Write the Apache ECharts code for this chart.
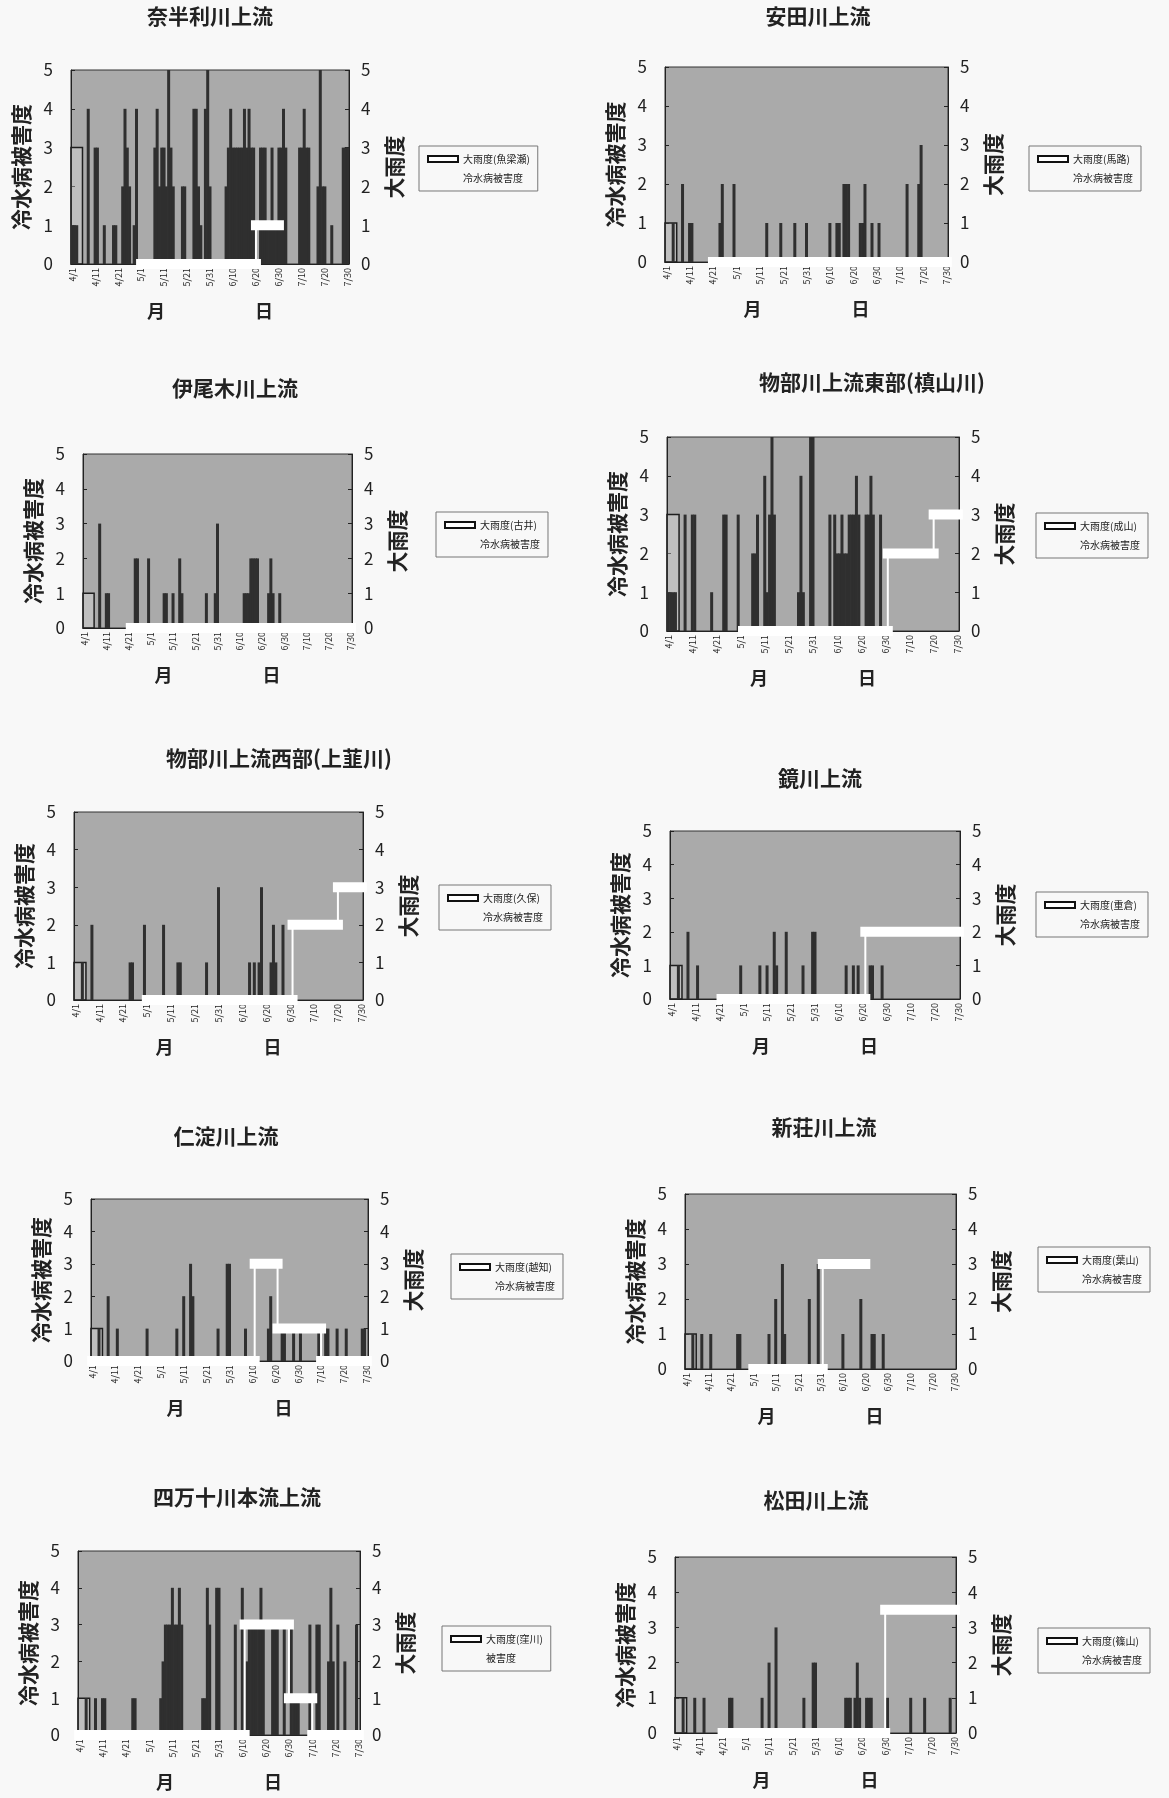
<!DOCTYPE html>
<html lang="ja">
<head>
<meta charset="utf-8">
<title>冷水病被害度と大雨度</title>
<script src="https://cdn.jsdelivr.net/npm/echarts@6/dist/echarts.min.js"></script>
<style>
  html, body { margin: 0; padding: 0; background: #f8f8f8; }
  #chart { width: 1169px; height: 1798px; }
</style>
</head>
<body>
<div id="chart"></div>
<script>
// daily categories 4/1 .. 7/30
const monthLengths = [[4, 30], [5, 31], [6, 30], [7, 30]]
const days = []
monthLengths.forEach(([m, n]) => { for (let d = 1; d <= n; d++) days.push(m + "/" + d) })

const titles = [
  "奈半利川上流", "安田川上流", "伊尾木川上流", "物部川上流東部(槙山川)", "物部川上流西部(上韮川)",
  "鏡川上流", "仁淀川上流", "新荘川上流", "四万十川本流上流", "松田川上流"
]
const stations = ["魚梁瀬", "馬路", "古井", "成山", "久保", "重倉", "越知", "葉山", "窪川", "篠山"]
const damageNames = [
  "冷水病被害度", "冷水病被害度", "冷水病被害度", "冷水病被害度", "冷水病被害度",
  "冷水病被害度", "冷水病被害度", "冷水病被害度", "被害度", "冷水病被害度"
]
// height of the outlined box drawn on 4/1
const boxTops = [3, 1, 1, 3, 1, 1, 1, 1, 1, 1]

// 冷水病被害度 (daily, only non-zero days)
const damage1 = [
  ["4/1", 1], ["4/2", 1], ["4/3", 1], ["4/8", 4], ["4/11", 3], ["4/12", 3], ["4/15", 1], ["4/19", 1], ["4/20", 1],
  ["4/23", 2], ["4/24", 4], ["4/25", 3], ["4/26", 2], ["4/28", 1], ["4/29", 4],
  ["5/7", 3], ["5/8", 4], ["5/9", 2], ["5/10", 3], ["5/11", 3], ["5/12", 2], ["5/13", 5], ["5/14", 3], ["5/15", 2],
  ["5/19", 2], ["5/20", 2], ["5/24", 4], ["5/25", 4], ["5/26", 2], ["5/27", 1], ["5/29", 4], ["5/30", 5], ["5/31", 2],
  ["6/7", 2], ["6/8", 3], ["6/9", 4], ["6/10", 3], ["6/11", 3], ["6/12", 3], ["6/13", 3], ["6/14", 3], ["6/15", 4],
  ["6/16", 3], ["6/17", 4], ["6/18", 3], ["6/19", 3], ["6/22", 3], ["6/23", 3], ["6/24", 3], ["6/25", 1], ["6/26", 1],
  ["6/27", 3], ["6/28", 1], ["6/29", 1], ["6/30", 3], ["7/1", 3], ["7/2", 4], ["7/3", 3],
  ["7/9", 3], ["7/10", 3], ["7/11", 4], ["7/12", 3], ["7/13", 3], ["7/17", 2], ["7/18", 5], ["7/19", 2], ["7/20", 2],
  ["7/23", 1], ["7/28", 3], ["7/29", 3], ["7/30", 3]
]
const damage2 = [
  ["4/4", 1], ["4/8", 2], ["4/11", 1], ["4/12", 1], ["4/24", 1], ["4/25", 2], ["4/30", 2], ["5/14", 1], ["5/20", 1],
  ["5/26", 1], ["5/31", 1], ["6/10", 1], ["6/13", 1], ["6/14", 1], ["6/16", 2], ["6/17", 2], ["6/18", 2],
  ["6/23", 1], ["6/24", 1], ["6/25", 2], ["6/28", 1], ["7/1", 1], ["7/13", 2], ["7/18", 2], ["7/19", 3]
]
const damage3 = [
  ["4/8", 3], ["4/11", 1], ["4/12", 1], ["4/24", 2], ["4/25", 2], ["4/30", 2], ["5/7", 1], ["5/8", 1], ["5/11", 1],
  ["5/14", 2], ["5/15", 1], ["5/26", 1], ["5/30", 1], ["5/31", 3], ["6/12", 1], ["6/13", 1], ["6/14", 1],
  ["6/15", 2], ["6/16", 2], ["6/17", 2], ["6/18", 2], ["6/23", 1], ["6/24", 2], ["6/25", 1], ["6/28", 1]
]
const damage4 = [
  ["4/1", 1], ["4/2", 1], ["4/3", 1], ["4/4", 1], ["4/8", 3], ["4/11", 3], ["4/12", 3], ["4/19", 1], ["4/24", 3],
  ["4/25", 3], ["4/30", 3], ["5/6", 2], ["5/7", 2], ["5/8", 3], ["5/11", 4], ["5/12", 1], ["5/13", 3], ["5/14", 5],
  ["5/15", 3], ["5/25", 1], ["5/26", 4], ["5/27", 1], ["5/30", 5], ["5/31", 5], ["6/7", 3], ["6/9", 3], ["6/10", 2],
  ["6/11", 2], ["6/12", 3], ["6/13", 2], ["6/14", 2], ["6/15", 3], ["6/16", 3], ["6/17", 3], ["6/18", 4], ["6/19", 3],
  ["6/22", 3], ["6/23", 3], ["6/24", 4], ["6/25", 3], ["6/28", 3]
]
const damage5 = [
  ["4/4", 1], ["4/8", 2], ["4/24", 1], ["4/25", 1], ["4/30", 2], ["5/8", 2], ["5/14", 1], ["5/15", 1], ["5/26", 1],
  ["5/31", 3], ["6/13", 1], ["6/15", 1], ["6/17", 1], ["6/18", 3], ["6/22", 1], ["6/23", 2], ["6/24", 1], ["6/27", 2]
]
const damage6 = [
  ["4/4", 1], ["4/8", 2], ["4/12", 1], ["4/30", 1], ["5/8", 1], ["5/11", 1], ["5/14", 2], ["5/15", 1], ["5/19", 2],
  ["5/26", 1], ["5/30", 2], ["5/31", 2], ["6/13", 1], ["6/16", 1], ["6/18", 1], ["6/23", 1], ["6/24", 1], ["6/28", 1]
]
const damage7 = [
  ["4/4", 1], ["4/8", 2], ["4/12", 1], ["4/25", 1], ["5/8", 1], ["5/11", 2], ["5/14", 3], ["5/15", 2], ["5/26", 1],
  ["5/30", 3], ["5/31", 3], ["6/7", 1], ["6/17", 1], ["6/18", 2], ["6/23", 1], ["6/24", 1], ["6/28", 1], ["7/1", 1],
  ["7/9", 1], ["7/12", 1], ["7/13", 1], ["7/17", 1], ["7/21", 1], ["7/28", 1], ["7/29", 1]
]
const damage8 = [
  ["4/4", 1], ["4/8", 1], ["4/12", 1], ["4/24", 1], ["4/25", 1], ["5/8", 1], ["5/11", 2], ["5/14", 3], ["5/15", 1],
  ["5/26", 2], ["5/30", 3], ["6/10", 1], ["6/18", 2], ["6/23", 1], ["6/24", 1], ["6/28", 1]
]
const damage9 = [
  ["4/4", 1], ["4/8", 1], ["4/11", 1], ["4/12", 1], ["4/24", 1], ["4/25", 1], ["5/6", 1], ["5/7", 2], ["5/8", 3],
  ["5/9", 3], ["5/10", 3], ["5/11", 4], ["5/12", 3], ["5/13", 3], ["5/14", 4], ["5/15", 3], ["5/24", 1], ["5/25", 1],
  ["5/26", 4], ["5/27", 3], ["5/30", 4], ["5/31", 4], ["6/7", 3], ["6/10", 4], ["6/12", 2], ["6/13", 3], ["6/14", 3],
  ["6/15", 3], ["6/16", 3], ["6/17", 3], ["6/18", 4], ["6/19", 3], ["6/23", 3], ["6/24", 3], ["6/25", 3], ["6/28", 3],
  ["7/1", 3], ["7/2", 1], ["7/3", 1], ["7/4", 1], ["7/9", 3], ["7/12", 3], ["7/13", 3], ["7/17", 2], ["7/18", 4],
  ["7/19", 2], ["7/21", 3], ["7/24", 2], ["7/29", 3]
]
const damage10 = [
  ["4/4", 1], ["4/9", 1], ["4/13", 1], ["4/24", 1], ["4/25", 1], ["5/8", 1], ["5/11", 2], ["5/14", 3], ["5/26", 1],
  ["5/30", 2], ["5/31", 2], ["6/13", 1], ["6/14", 1], ["6/15", 1], ["6/17", 1], ["6/18", 2], ["6/19", 1],
  ["6/22", 1], ["6/23", 1], ["6/24", 1], ["7/1", 1], ["7/11", 1], ["7/17", 1], ["7/28", 1]
]

// 大雨度 (step outline vertices)
const rain1 = [["5/1", 0], ["6/20", 0], ["6/20", 1], ["6/30", 1]]
const rain2 = [["4/21", 0], ["7/30", 0]]
const rain3 = [["4/22", 0], ["7/30", 0]]
const rain4 = [["5/2", 0], ["7/1", 0], ["7/1", 2], ["7/20", 2], ["7/20", 3], ["7/30", 3]]
const rain5 = [["5/1", 0], ["7/1", 0], ["7/1", 2], ["7/20", 2], ["7/20", 3], ["7/30", 3]]
const rain6 = [["4/22", 0], ["6/21", 0], ["6/21", 2], ["7/30", 2]]
const rain7 = [["4/1", 0], ["6/11", 0], ["6/11", 3], ["6/21", 3], ["6/21", 1], ["7/10", 1], ["7/10", 0], ["7/30", 0]]
const rain8 = [["5/1", 0], ["6/1", 0], ["6/1", 3], ["6/20", 3]]
const rain9 = [["4/1", 0], ["6/11", 0], ["6/11", 3], ["6/30", 3], ["6/30", 1], ["7/10", 1], ["7/10", 0], ["7/30", 0]]
const rain10 = [["4/21", 0], ["6/30", 0], ["6/30", 3.5], ["7/30", 3.5]]

const damageSets = [damage1, damage2, damage3, damage4, damage5, damage6, damage7, damage8, damage9, damage10]
const rainSets = [rain1, rain2, rain3, rain4, rain5, rain6, rain7, rain8, rain9, rain10]

// panel geometry: plot rect, title centre, legend corner
const layout = [
  { plot: [71, 70, 278, 194], title: [210, 16], legend: [419, 146] },
  { plot: [665, 67, 283, 195], title: [818, 16], legend: [1029, 146] },
  { plot: [83, 454, 269, 174], title: [235, 388], legend: [436, 512] },
  { plot: [667, 437, 292, 194], title: [872, 382], legend: [1036, 513] },
  { plot: [74, 812, 289, 188], title: [279, 758], legend: [439, 885] },
  { plot: [670, 831, 290, 168], title: [820, 778], legend: [1036, 892] },
  { plot: [91, 1199, 277, 162], title: [226, 1136], legend: [451, 1254] },
  { plot: [685, 1194, 271, 175], title: [824, 1127], legend: [1038, 1247] },
  { plot: [78, 1551, 282, 184], title: [237, 1497], legend: [442, 1626] },
  { plot: [675, 1557, 281, 176], title: [816, 1500], legend: [1038, 1628] }
]

const FONT = '"Noto Sans CJK JP", "Noto Sans", sans-serif'
const INK = "#222"
const PLOT_BG = "#aaaaaa"
const BAR = "#2f2f2f"

// keep only the flat runs of the step outline, drawn as thick bands
function flatRuns(points) {
  const out = []
  for (let i = 0; i < points.length - 1; i++) {
    if (points[i][1] === points[i + 1][1]) out.push(points[i], points[i + 1], [points[i + 1][0], "-"])
  }
  return out
}

const grids = [], xAxes = [], yAxes = [], series = [], legends = [], graphics = []

layout.forEach((panel, i) => {
  const [left, top, width, height] = panel.plot
  const rainName = "大雨度(" + stations[i] + ")"

  grids.push({
    left, top, width, height, show: true,
    backgroundColor: PLOT_BG, borderColor: "#333", borderWidth: 1,
    containLabel: false, outerBoundsMode: "none"
  })

  xAxes.push({
    type: "category", gridIndex: i, data: days, boundaryGap: true,
    axisLine: { lineStyle: { color: INK, width: 1 } },
    axisTick: { show: false },
    axisLabel: { interval: 9, rotate: 90, fontSize: 9, color: INK, margin: 4, fontFamily: FONT },
    splitLine: { show: false },
    name: "月\u3000\u3000\u3000\u3000\u3000日", nameLocation: "middle", nameGap: 38,
    nameTextStyle: { fontSize: 18, fontWeight: "bold", color: INK, fontFamily: FONT }
  })

  const yBase = {
    type: "value", gridIndex: i, min: 0, max: 5, interval: 1,
    axisLine: { show: true, lineStyle: { color: INK, width: 1 } },
    axisTick: { show: true, inside: true, length: 4, lineStyle: { color: INK } },
    splitLine: { show: false },
    nameLocation: "middle", nameRotate: 90,
    nameTextStyle: { fontSize: 21, fontWeight: "bold", color: INK, fontFamily: FONT }
  }
  yAxes.push(Object.assign({}, yBase, {
    position: "left", name: "冷水病被害度", nameGap: 39,
    axisLabel: { fontSize: 17, color: INK, margin: 18, fontFamily: FONT }
  }))
  yAxes.push(Object.assign({}, yBase, {
    position: "right", name: "大雨度", nameGap: 35,
    axisLabel: { fontSize: 17, color: INK, margin: 12, fontFamily: FONT }
  }))

  series.push({
    type: "bar", name: damageNames[i], xAxisIndex: i, yAxisIndex: 2 * i,
    data: damageSets[i], barWidth: 3, z: 2, silent: true,
    itemStyle: { color: BAR },
    markArea: {
      silent: true,
      itemStyle: { color: "rgba(232,232,232,0.35)", borderColor: "#1e1e1e", borderWidth: 1.5 },
      data: [[{ xAxis: "4/1", yAxis: 0 }, { xAxis: "4/4", yAxis: boxTops[i] }]]
    }
  })
  series.push({
    type: "line", name: rainName, xAxisIndex: i, yAxisIndex: 2 * i + 1,
    data: rainSets[i], symbol: "none", z: 3, silent: true,
    lineStyle: { color: "#ffffff", width: 2 }, itemStyle: { color: "#ffffff" }
  })
  series.push({
    type: "line", name: rainName, xAxisIndex: i, yAxisIndex: 2 * i + 1,
    data: flatRuns(rainSets[i]), symbol: "none", connectNulls: false, z: 4, silent: true,
    lineStyle: { color: "#ffffff", width: 10, cap: "square" }, itemStyle: { color: "#ffffff" }
  })

  legends.push({
    left: panel.legend[0], top: panel.legend[1], orient: "vertical",
    selectedMode: false, itemWidth: 30, itemHeight: 6, itemGap: 9,
    padding: [8, 8], borderColor: "#777", borderWidth: 1,
    textStyle: { fontSize: 10, color: INK, fontFamily: FONT },
    data: [
      { name: rainName, icon: "rect", itemStyle: { color: "#ffffff", borderColor: "#111", borderWidth: 2 } },
      { name: damageNames[i], icon: "none" }
    ]
  })

  graphics.push({
    type: "text", x: panel.title[0], y: panel.title[1],
    style: {
      text: titles[i], fill: INK, fontSize: 21, fontWeight: "bold", fontFamily: FONT,
      align: "center", verticalAlign: "middle"
    }
  })
})

const chart = echarts.init(document.getElementById("chart"), null, { renderer: "canvas" })
chart.setOption({
  animation: false,
  backgroundColor: "#f8f8f8",
  textStyle: { fontFamily: FONT },
  grid: grids,
  xAxis: xAxes,
  yAxis: yAxes,
  legend: legends,
  graphic: graphics,
  series
})
</script>
</body>
</html>
